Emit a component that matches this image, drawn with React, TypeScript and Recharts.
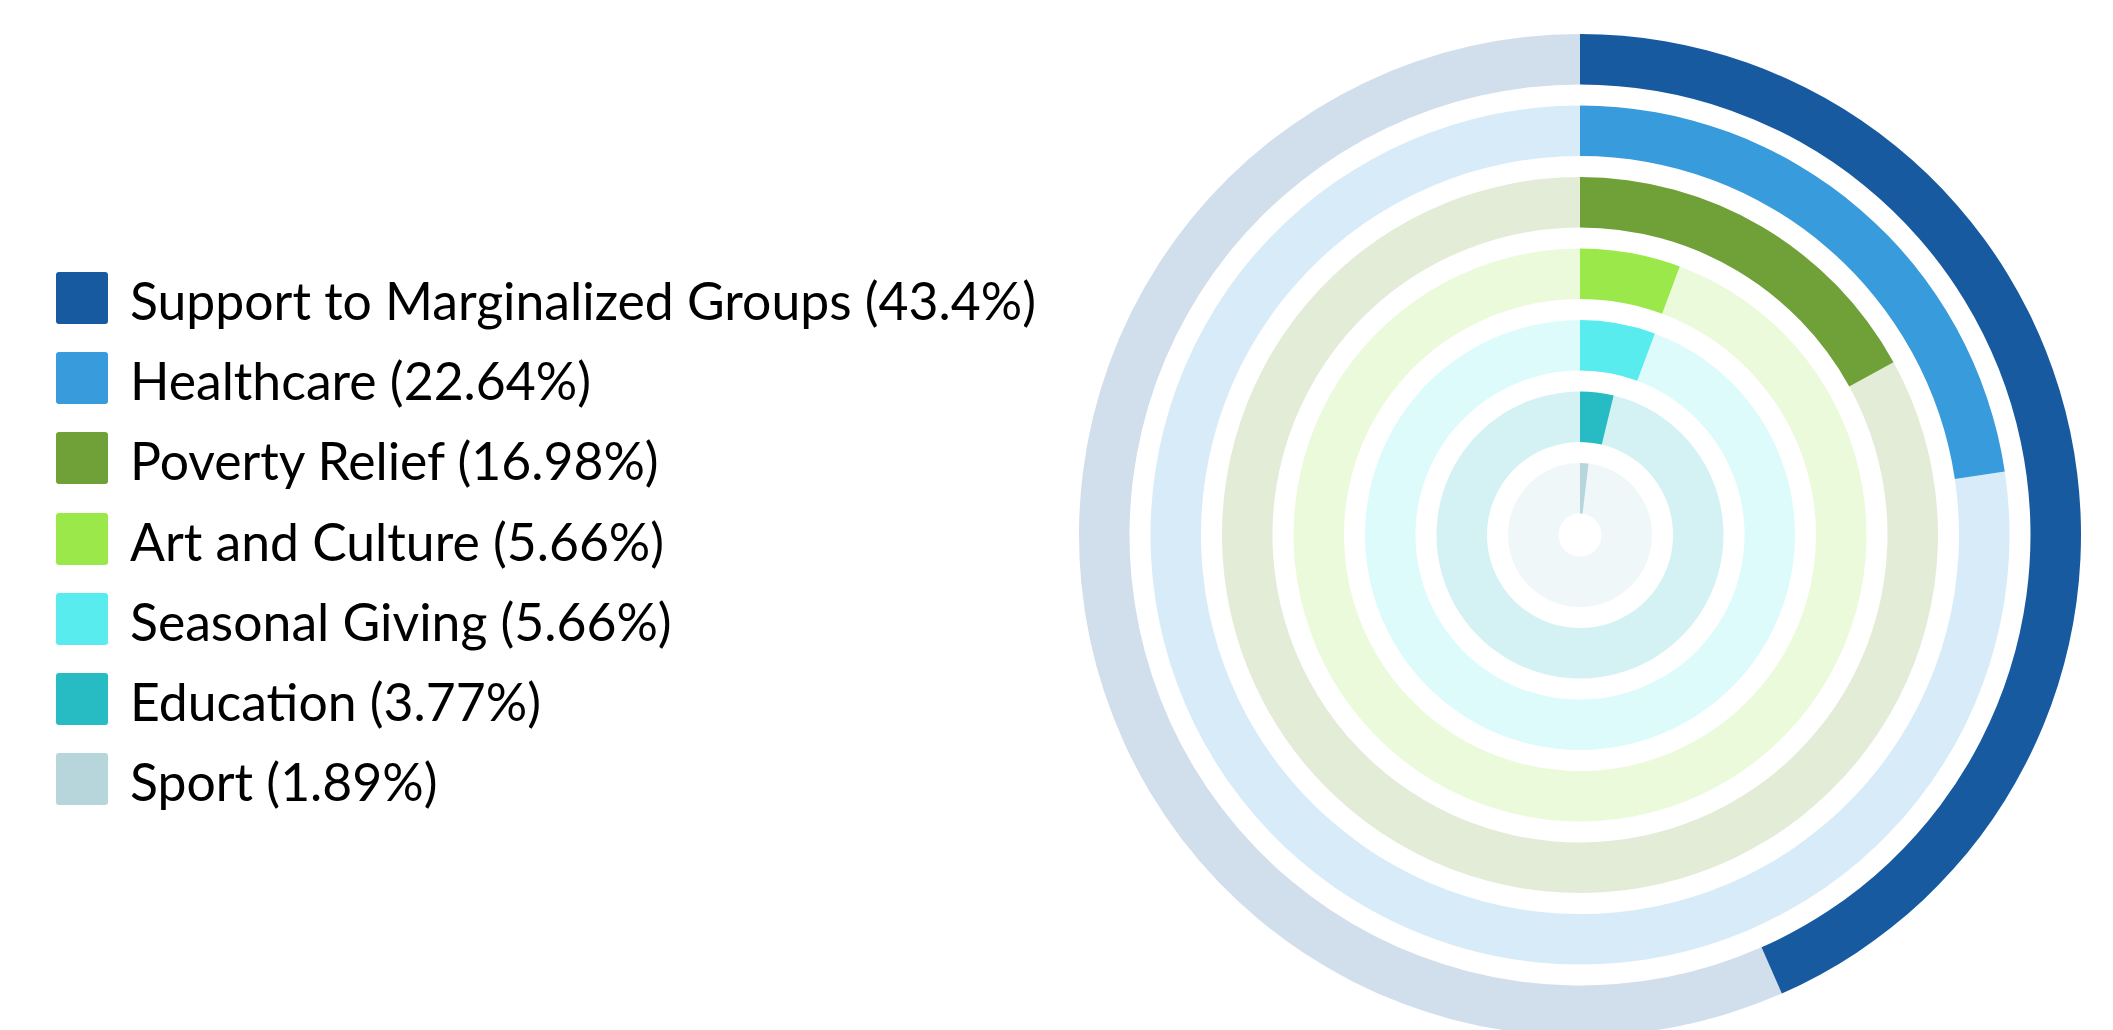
import React from "react";
import { PieChart, Pie, Cell, Legend } from "recharts";

const categories = [
  "Support to Marginalized Groups",
  "Healthcare",
  "Poverty Relief",
  "Art and Culture",
  "Seasonal Giving",
  "Education",
  "Sport",
];
const percents = [43.4, 22.64, 16.98, 5.66, 5.66, 3.77, 1.89];
const colors = ["#175aa0", "#389bdb", "#70a138", "#9be84a", "#58ecef", "#27bcc3", "#b6d6db"];

const W = 2113;
const H = 1030;
const CX = 1580;
const CY = 535;
const OUTER = 501;
const STEP = 71.5;
const THICK = 50.5;

const renderLegend = () => (
  <div style={{ fontFamily: "Lato, sans-serif", color: "#000" }}>
    {categories.map((c, i) => (
      <div
        key={c}
        style={{ display: "flex", alignItems: "center", height: 80.2, whiteSpace: "nowrap" }}
      >
        <div
          style={{
            width: 52,
            height: 52,
            borderRadius: 3,
            background: colors[i],
            flex: "none",
          }}
        />
        <span style={{ marginLeft: 22, fontSize: 51.7, lineHeight: "52px", position: "relative", top: 2 }}>
          {`${c} (${percents[i]}%)`}
        </span>
      </div>
    ))}
  </div>
);

export default function App() {
  return (
    <div style={{ position: "absolute", left: 0, top: 0, width: W, height: H, background: "#fff" }}>
      <PieChart width={W} height={H} margin={{ top: 0, right: 0, bottom: 0, left: 0 }}>
        {categories.map((c, i) => {
          const data = [
            { name: c, value: percents[i] },
            { name: `${c} rest`, value: 100 - percents[i] },
          ];
          const outer = OUTER - STEP * i;
          return (
            <Pie
              key={c}
              data={data}
              dataKey="value"
              cx={CX}
              cy={CY}
              innerRadius={outer - THICK}
              outerRadius={outer}
              startAngle={90}
              endAngle={-270}
              stroke="none"
              isAnimationActive={false}
              legendType="none"
            >
              <Cell fill={colors[i]} />
              <Cell fill={colors[i]} fillOpacity={0.2} />
            </Pie>
          );
        })}
        <Legend
          content={renderLegend}
          layout="vertical"
          verticalAlign="middle"
          align="center"
          wrapperStyle={{ left: 56, top: 258, width: 1000 }}
        />
      </PieChart>
    </div>
  );
}
